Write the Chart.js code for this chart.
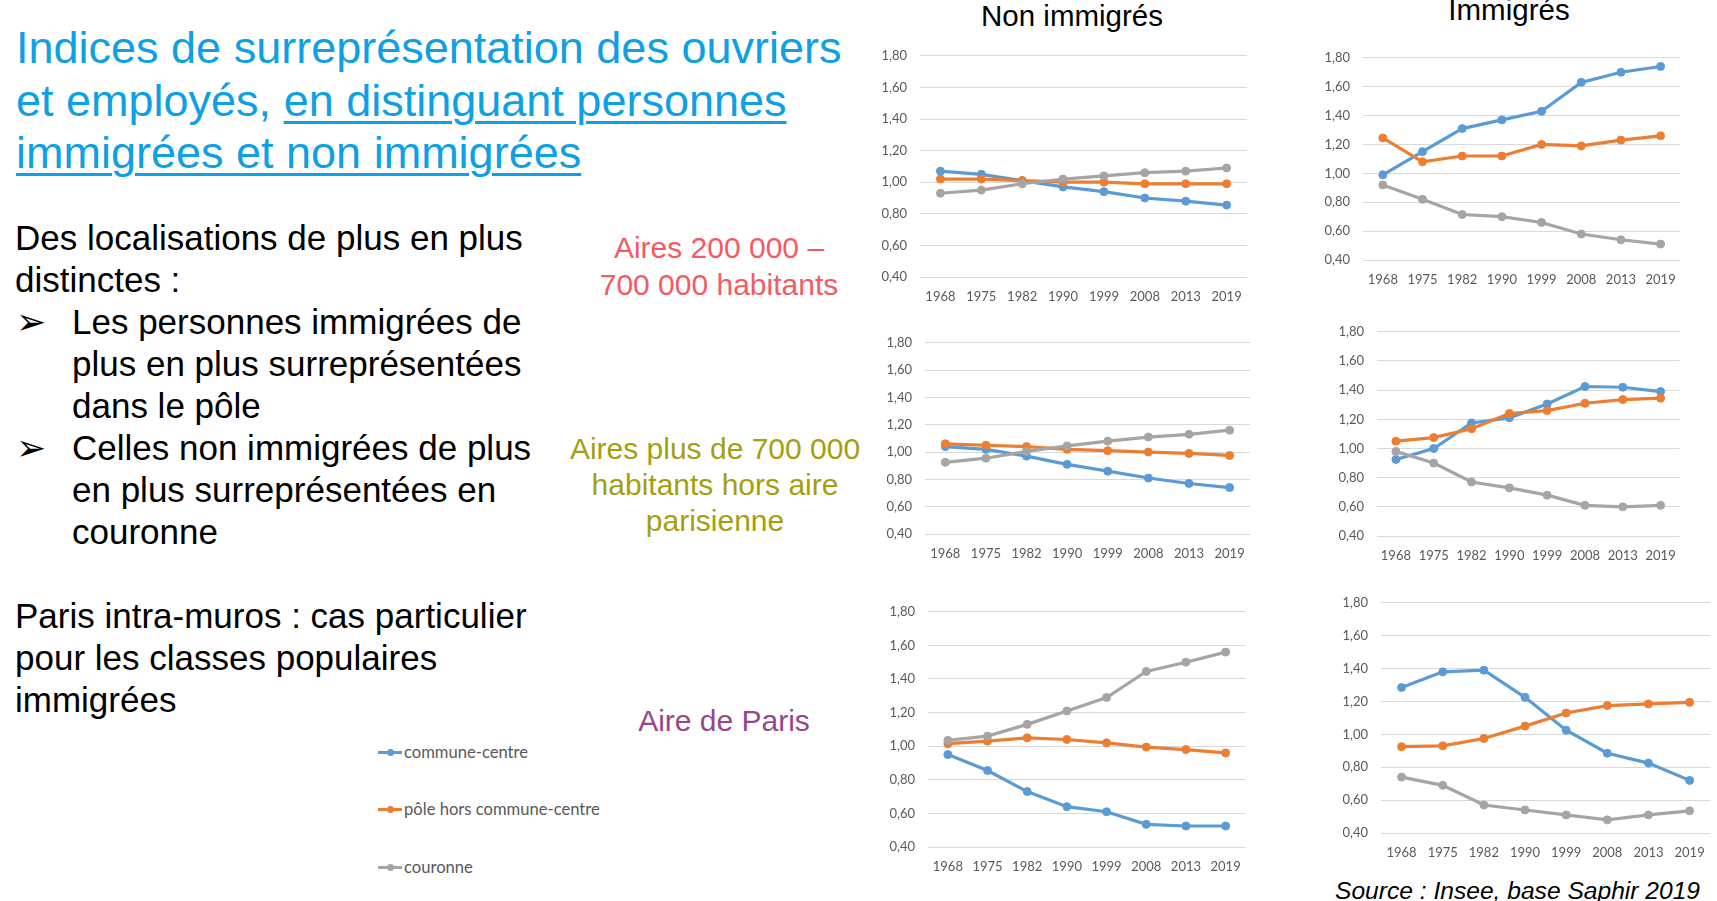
<!DOCTYPE html>
<html>
<head>
<meta charset="utf-8">
<script src="https://cdn.jsdelivr.net/npm/chart.js@4/dist/chart.umd.min.js"></script>
<style>
  html, body { margin: 0; padding: 0; background: #fff; }
  #slide { position: relative; width: 1717px; height: 901px; overflow: hidden; font-family: "Liberation Sans", Arial, sans-serif; }
  .t { position: absolute; white-space: nowrap; }
  .c { text-align: center; }
  .u { text-decoration: underline; text-decoration-thickness: 2.5px; text-underline-offset: 5px; }
  .bul { position: absolute; left: 16px; font-family: "DejaVu Sans"; font-size: 36px; line-height: 42px; }
  canvas { position: absolute; }
  .leg { position: absolute; left: 378px; height: 20px; display: flex; align-items: center; font-family: Lato, sans-serif; font-size: 16.6px; color: #595959; }
  .leg i { position: relative; display: inline-block; width: 24px; height: 3px; margin-right: 2px; }
  .leg i b { position: absolute; left: 9px; top: -2px; width: 7px; height: 7px; border-radius: 50%; background: inherit; }
</style>
</head>
<body>
<div id="slide">
  <div class="t" style="left:16px; top:22px; font-size:45px; line-height:52.5px; color:#0EA0E4;">
    Indices de surreprésentation des ouvriers<br>
    et employés, <span class="u">en distinguant personnes</span><br>
    <span class="u">immigrées et non immigrées</span>
  </div>

  <div class="t" style="left:15px; top:217px; font-size:35px; line-height:42px; color:#000;">
    Des localisations de plus en plus<br>distinctes :
  </div>
  <div class="bul" style="top:301px;">➢</div>
  <div class="t" style="left:72px; top:301px; font-size:35px; line-height:42px; color:#000;">
    Les personnes immigrées de<br>plus en plus surreprésentées<br>dans le pôle
  </div>
  <div class="bul" style="top:427px;">➢</div>
  <div class="t" style="left:72px; top:427px; font-size:35px; line-height:42px; color:#000;">
    Celles non immigrées de plus<br>en plus surreprésentées en<br>couronne
  </div>

  <div class="t" style="left:15px; top:595px; font-size:35px; line-height:42px; color:#000;">
    Paris intra-muros : cas particulier<br>pour les classes populaires<br>immigrées
  </div>

  <div class="t c" style="left:569px; width:300px; top:230px; font-size:30px; line-height:36.7px; color:#F55A63;">
    Aires 200 000 –<br>700 000 habitants
  </div>
  <div class="t c" style="left:565px; width:300px; top:431px; font-size:30px; line-height:36px; color:#A3A010;">
    Aires plus de 700 000<br>habitants hors aire<br>parisienne
  </div>
  <div class="t c" style="left:574px; width:300px; top:706px; font-size:30px; line-height:30px; color:#96468C;">
    Aire de Paris
  </div>

  <div class="t c" style="left:922px; width:300px; top:1px; font-size:29.5px; line-height:29.5px; color:#000;">Non immigrés</div>
  <div class="t c" style="left:1359px; width:300px; top:-5px; font-size:29.5px; line-height:29.5px; color:#000;">Immigrés</div>

  <div class="leg" style="top:742px;"><i style="background:#5B9BD5"><b></b></i>commune-centre</div>
  <div class="leg" style="top:799px;"><i style="background:#ED7D31"><b></b></i>pôle hors commune-centre</div>
  <div class="leg" style="top:857px;"><i style="background:#A5A5A5"><b></b></i>couronne</div>

  <div class="t" style="left:1335px; top:879px; font-size:24.6px; line-height:24.6px; font-style:italic; color:#000;">Source : Insee, base Saphir 2019</div>
</div>

<script>
// categories
const years = ['1968', '1975', '1982', '1990', '1999', '2008', '2013', '2019']
const seriesNames = ['commune-centre', 'pôle hors commune-centre', 'couronne']

// Aires 200 000 – 700 000 habitants
const ni1Centre   = [1.07, 1.05, 1.01, 0.97, 0.94, 0.90, 0.88, 0.855]
const ni1Pole     = [1.02, 1.02, 1.01, 1.00, 1.00, 0.99, 0.99, 0.99]
const ni1Couronne = [0.93, 0.95, 0.99, 1.02, 1.04, 1.06, 1.07, 1.09]
const im1Centre   = [0.99, 1.15, 1.31, 1.37, 1.43, 1.63, 1.70, 1.74]
const im1Pole     = [1.245, 1.08, 1.12, 1.12, 1.20, 1.19, 1.23, 1.26]
const im1Couronne = [0.92, 0.82, 0.715, 0.70, 0.66, 0.58, 0.54, 0.51]

// Aires plus de 700 000 habitants hors aire parisienne
const ni2Centre   = [1.04, 1.02, 0.97, 0.91, 0.86, 0.81, 0.77, 0.74]
const ni2Pole     = [1.06, 1.05, 1.04, 1.02, 1.01, 1.00, 0.99, 0.975]
const ni2Couronne = [0.925, 0.955, 1.005, 1.045, 1.08, 1.11, 1.13, 1.16]
const im2Centre   = [0.925, 1.00, 1.175, 1.21, 1.305, 1.425, 1.42, 1.39]
const im2Pole     = [1.05, 1.075, 1.135, 1.24, 1.26, 1.31, 1.335, 1.345]
const im2Couronne = [0.98, 0.90, 0.77, 0.73, 0.68, 0.61, 0.60, 0.61]

// Aire de Paris
const ni3Centre   = [0.95, 0.855, 0.73, 0.64, 0.61, 0.535, 0.525, 0.525]
const ni3Pole     = [1.015, 1.03, 1.05, 1.04, 1.02, 0.995, 0.98, 0.96]
const ni3Couronne = [1.035, 1.06, 1.13, 1.21, 1.29, 1.445, 1.50, 1.56]
const im3Centre   = [1.285, 1.38, 1.39, 1.225, 1.025, 0.885, 0.825, 0.72]
const im3Pole     = [0.925, 0.93, 0.975, 1.05, 1.13, 1.175, 1.185, 1.195]
const im3Couronne = [0.74, 0.69, 0.57, 0.54, 0.51, 0.48, 0.51, 0.535]

// y axis ticks
const yMin = 0.4
const yMax = 1.8
const yStep = 0.2

const colors = ['#5B9BD5', '#ED7D31', '#A5A5A5']

// plot area of each small chart, in page pixels
const panels = [
  { plot: [920, 1246, 55, 277],  data: [ni1Centre, ni1Pole, ni1Couronne] },
  { plot: [1363, 1680, 57, 260], data: [im1Centre, im1Pole, im1Couronne] },
  { plot: [925, 1249, 342, 534], data: [ni2Centre, ni2Pole, ni2Couronne] },
  { plot: [1377, 1680, 331, 536], data: [im2Centre, im2Pole, im2Couronne] },
  { plot: [928, 1245, 611, 847], data: [ni3Centre, ni3Pole, ni3Couronne] },
  { plot: [1381, 1713, 602, 833], data: [im3Centre, im3Pole, im3Couronne] }
]

const AXIS_W = 50
const AXIS_H = 32
const PAD_T = 12
const PAD_R = 4
// chart.js keeps some extra room for the tick labels, compensate for it
const LABEL_T = 8
const LABEL_R = 4

const slide = document.getElementById('slide')

panels.forEach(p => {
  const [l, r, t, b] = p.plot
  const canvas = document.createElement('canvas')
  const left = l - AXIS_W
  const top = t - PAD_T - LABEL_T
  const w = Math.min(r - left + PAD_R + LABEL_R, 1717 - left)
  const h = b - top + AXIS_H
  canvas.width = w
  canvas.height = h
  canvas.style.left = left + 'px'
  canvas.style.top = top + 'px'
  canvas.style.width = w + 'px'
  canvas.style.height = h + 'px'
  slide.appendChild(canvas)

  new Chart(canvas, {
    type: 'line',
    data: {
      labels: years,
      datasets: p.data.map((vals, i) => ({
        label: seriesNames[i],
        data: vals,
        borderColor: colors[i],
        backgroundColor: colors[i],
        pointBackgroundColor: colors[i],
        pointBorderColor: colors[i],
        borderWidth: 3.2,
        pointRadius: 4,
        pointBorderWidth: 1,
        tension: 0,
        order: 3 - i
      }))
    },
    options: {
      responsive: false,
      animation: false,
      devicePixelRatio: 1,
      layout: { padding: { top: PAD_T, right: PAD_R, left: 0, bottom: 0 } },
      plugins: { legend: { display: false }, tooltip: { enabled: false } },
      scales: {
        x: {
          offset: true,
          grid: { display: false, drawTicks: false },
          border: { display: false },
          ticks: { padding: 12, color: '#595959', font: { family: 'Lato', size: 13 }, maxRotation: 0 },
          afterFit: axis => { axis.height = AXIS_H }
        },
        y: {
          min: yMin,
          max: yMax,
          grid: { color: '#D9D9D9', lineWidth: 1, drawTicks: false },
          border: { display: false },
          ticks: {
            stepSize: yStep,
            padding: 13,
            color: '#595959',
            font: { family: 'Lato', size: 13 },
            callback: v => v.toFixed(2).replace('.', ',')
          },
          afterFit: axis => { axis.width = AXIS_W }
        }
      }
    }
  })
})
</script>
</body>
</html>
